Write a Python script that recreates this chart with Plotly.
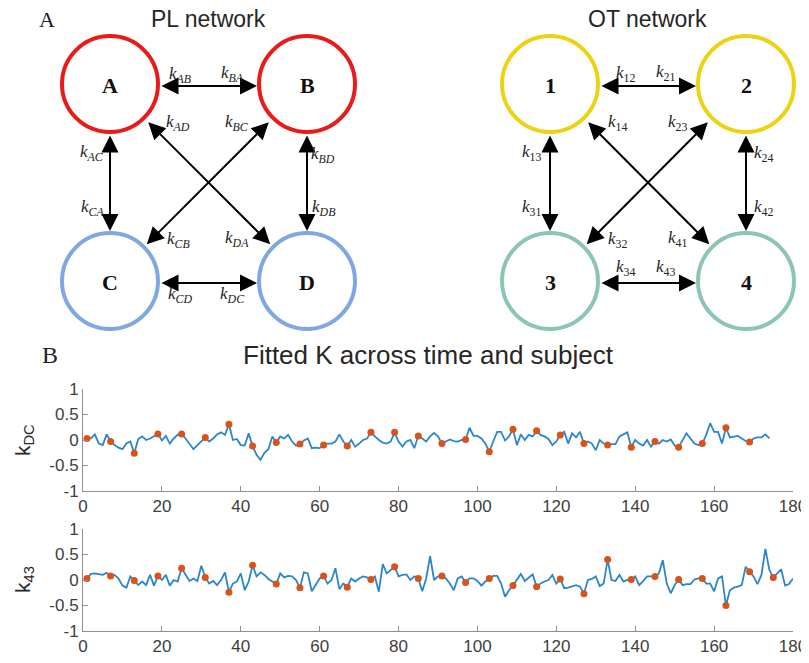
import plotly.graph_objects as go

# ---------------- data ----------------
k_dc = [0.03, 0.03, 0.11, -0.07, -0.10, 0.11, -0.03, -0.10, -0.15, -0.18,
        -0.07, -0.03, -0.26, 0.02, 0.07, 0.00, 0.03, 0.07, 0.12, -0.01,
        0.08, -0.07, 0.03, 0.10, 0.12, 0.03, -0.07, -0.18, -0.10, -0.02,
        0.05, -0.03, 0.03, 0.11, 0.15, 0.10, 0.31, 0.00, 0.02, -0.10,
        -0.11, 0.13, -0.12, -0.29, -0.39, -0.25, -0.18, 0.07, -0.05, 0.07,
        0.03, 0.10, -0.03, -0.11, -0.08, -0.01, 0.03, -0.16, -0.15, -0.16,
        -0.10, -0.07, -0.07, -0.03, 0.11, -0.03, -0.12, 0.00, -0.13, -0.07,
        0.00, 0.03, 0.15, 0.07, 0.00, -0.05, -0.07, -0.03, 0.15, -0.03,
        -0.13, -0.03, 0.00, -0.16, 0.08, 0.03, -0.03, 0.07, 0.14, 0.07,
        -0.07, -0.03, 0.01, -0.02, -0.03, 0.00, 0.01, 0.24, 0.08, 0.08,
        0.03, -0.07, -0.23, -0.03, 0.16, 0.16, -0.01, 0.07, 0.21, -0.10,
        0.11, 0.00, 0.10, 0.07, 0.18, 0.10, 0.07, 0.02, -0.10, -0.03,
        0.10, 0.16, -0.07, 0.13, 0.05, 0.16, -0.07, -0.03, -0.07, -0.20,
        0.00, -0.07, -0.10, -0.08, -0.08, 0.07, 0.11, 0.15, -0.14, 0.00,
        -0.07, -0.11, 0.00, -0.13, -0.03, -0.07, 0.00, -0.03, 0.01, -0.11,
        -0.14, 0.00, 0.13, 0.03, -0.07, -0.10, -0.07, 0.10, 0.33, 0.16,
        0.16, -0.07, 0.24, 0.05, 0.07, 0.08, 0.03, -0.02, -0.04, 0.03,
        0.05, 0.05, 0.11, 0.03]

k_43 = [0.03, 0.12, 0.13, 0.11, 0.10, 0.14, 0.08, 0.10, 0.03, -0.11,
        -0.15, 0.07, -0.01, -0.10, -0.03, -0.10, 0.10, -0.11, 0.08, 0.00,
        0.10, -0.11, 0.00, -0.03, 0.23, 0.10, -0.02, 0.03, -0.02, 0.28,
        0.05, -0.07, -0.02, -0.10, 0.00, 0.15, -0.24, -0.07, -0.03, 0.13,
        -0.20, -0.03, 0.29, 0.07, 0.15, 0.10, 0.02, -0.03, -0.08, 0.13,
        0.05, 0.08, 0.07, 0.00, -0.15, 0.15, 0.13, -0.22, -0.10, 0.03,
        0.08, -0.07, 0.00, 0.23, -0.18, -0.07, -0.14, 0.03, -0.03, 0.03,
        0.07, 0.05, 0.01, 0.07, -0.23, 0.31, 0.13, 0.20, 0.26, 0.07,
        0.10, 0.11, 0.00, 0.07, 0.03, -0.22, 0.03, 0.47, 0.00, 0.07,
        0.08, 0.03, -0.07, -0.20, 0.03, 0.07, -0.05, 0.03, 0.03, -0.02,
        -0.11, -0.03, 0.03, 0.08, 0.08, -0.07, -0.33, -0.20, -0.11, 0.00,
        0.12, -0.02, 0.05, 0.11, -0.13, -0.07, -0.03, 0.00, 0.10, -0.07,
        0.02, -0.16, -0.15, -0.13, -0.10, -0.13, -0.27, 0.00, 0.02, 0.07,
        -0.12, -0.07, 0.40, 0.00, -0.02, 0.10, -0.03, 0.00, 0.01, 0.07,
        -0.10, -0.02, 0.07, 0.07, 0.07, 0.13, 0.39, -0.07, -0.26, -0.10,
        0.01, -0.10, -0.08, -0.08, 0.01, 0.03, 0.03, -0.07, -0.07, -0.22,
        0.03, 0.07, -0.50, -0.20, -0.15, -0.13, -0.10, 0.26, 0.16, 0.07,
        -0.08, 0.10, 0.61, 0.20, 0.05, 0.13, 0.21, -0.11, -0.08, 0.03]

marker_step = 6
x_ticks = [0, 20, 40, 60, 80, 100, 120, 140, 160, 180]
y_ticks = [-1, -0.5, 0, 0.5, 1]
y_tick_text = ["-1", "-0.5", "0", "0.5", "1"]

pl_nodes = ["A", "B", "C", "D"]
ot_nodes = ["1", "2", "3", "4"]
edges = [(0, 1), (0, 2), (1, 3), (2, 3), (0, 3), (1, 2)]
pl_edge_labels = ["AB", "BA", "AD", "BC", "AC", "CA", "BD", "DB", "CB", "DA", "CD", "DC"]
ot_edge_labels = ["12", "21", "14", "23", "13", "31", "24", "42", "32", "41", "34", "43"]

# ---------------- layout helpers ----------------
PAGE_W, PAGE_H = 809, 663
OFF = 8                      # default page body margin
W, H = PAGE_W - OFF, PAGE_H - OFF
BLUE = "#2A86CC"
ORANGE = "#D95319"
AXC = "#8f8f8f"
TXT = "#404040"

pl_centers = [(110, 84), (307, 84), (110, 281), (307, 281)]
ot_centers = [(550, 84), (746, 84), (550, 281), (746, 281)]
pl_colors = ["#EB1A1A", "#EB1A1A", "#7FA7E1", "#7FA7E1"]
ot_colors = ["#EDD213", "#EDD213", "#8CC5B5", "#8CC5B5"]
pl_label_pos = [(180, 75), (232, 74), (178, 123), (237, 123), (92, 153), (92, 208),
                (323, 155), (323, 208), (178, 240), (237, 239), (180, 295), (232, 295)]
ot_label_pos = [(625, 74), (665, 73), (617, 123), (677, 123), (531, 153), (531, 208),
                (763, 154), (763, 208), (617, 240), (677, 239), (625, 268), (665, 268)]

fig = go.Figure()

xs_dc = list(range(1, len(k_dc) + 1))
xs_43 = list(range(1, len(k_43) + 1))

fig.add_trace(go.Scatter(x=xs_dc, y=k_dc, mode="lines", line=dict(color=BLUE, width=1.8),
                         xaxis="x", yaxis="y", showlegend=False))
fig.add_trace(go.Scatter(x=xs_dc[::marker_step], y=k_dc[::marker_step], mode="markers",
                         marker=dict(color=ORANGE, size=7), xaxis="x", yaxis="y", showlegend=False))
fig.add_trace(go.Scatter(x=xs_43, y=k_43, mode="lines", line=dict(color=BLUE, width=1.8),
                         xaxis="x2", yaxis="y2", showlegend=False))
fig.add_trace(go.Scatter(x=xs_43[::marker_step], y=k_43[::marker_step], mode="markers",
                         marker=dict(color=ORANGE, size=7), xaxis="x2", yaxis="y2", showlegend=False))

def px_x(p):
    return (p - OFF) / W

def px_y(p):
    return (OFF + H - p) / H

xdom = [px_x(83), px_x(793)]
axis_common = dict(showline=True, linecolor=AXC, linewidth=1, ticks="inside", ticklen=5,
                   tickcolor=AXC, showgrid=False, zeroline=False, automargin=False,
                   tickfont=dict(family="Liberation Sans, Arial", size=17, color=TXT))

fig.update_layout(
    width=W, height=H, autosize=False,
    margin=dict(l=0, r=0, t=0, b=0, pad=0, autoexpand=False),
    paper_bgcolor="white", plot_bgcolor="rgba(0,0,0,0)",
    xaxis=dict(domain=xdom, range=[0, 180], tickvals=x_ticks, anchor="y", **axis_common),
    yaxis=dict(domain=[px_y(491), px_y(389)], range=[-1, 1], tickvals=y_ticks,
               ticktext=y_tick_text, anchor="x", **axis_common),
    xaxis2=dict(domain=xdom, range=[0, 180], tickvals=x_ticks, anchor="y2", **axis_common),
    yaxis2=dict(domain=[px_y(631), px_y(529)], range=[-1, 1], tickvals=y_ticks,
                ticktext=y_tick_text, anchor="x2", **axis_common),
    xaxis3=dict(domain=[0, 1], range=[OFF, OFF + W], visible=False, anchor="y3", automargin=False),
    yaxis3=dict(domain=[0, 1], range=[OFF + H, OFF], visible=False, anchor="x3", automargin=False),
)
# dummy trace to activate overlay axes
fig.add_trace(go.Scatter(x=[], y=[], xaxis="x3", yaxis="y3", showlegend=False))

shapes = []
annotations = []
R_LINE = 48

def add_network(names, centers, colors, label_texts, label_pos, italic_sub):
    for name, (cx, cy), col in zip(names, centers, colors):
        shapes.append(dict(type="circle", xref="x3", yref="y3",
                           x0=cx - R_LINE, x1=cx + R_LINE, y0=cy - R_LINE, y1=cy + R_LINE,
                           line=dict(color=col, width=4), fillcolor="rgba(0,0,0,0)"))
        annotations.append(dict(x=cx, y=cy + 1, xref="x3", yref="y3", text="<b>%s</b>" % name,
                                showarrow=False, font=dict(family="Liberation Serif, Times New Roman",
                                                           size=22, color="#111111")))
    for i, j in edges:
        (x1, y1), (x2, y2) = centers[i], centers[j]
        dx, dy = x2 - x1, y2 - y1
        d = (dx ** 2 + dy ** 2) ** 0.5
        ux, uy = dx / d, dy / d
        rr = 52 if (dx != 0 and dy != 0) else 50
        off = 2 if dy == 0 else 0
        sx, sy = x1 + ux * rr, y1 + uy * rr + off
        ex, ey = x2 - ux * rr, y2 - uy * rr + off
        annotations.append(dict(x=ex, y=ey, ax=sx, ay=sy, xref="x3", yref="y3",
                                axref="x3", ayref="y3", text="", showarrow=True,
                                arrowhead=2, startarrowhead=2, arrowside="end+start",
                                arrowsize=1.7, startarrowsize=1.7, arrowwidth=2,
                                arrowcolor="black", standoff=0, startstandoff=0))
    for t, (lx, ly) in zip(label_texts, label_pos):
        sub = "<i>%s</i>" % t if italic_sub else t
        annotations.append(dict(x=lx, y=ly, xref="x3", yref="y3",
                                text="<i>k</i><sub>%s</sub>" % sub, showarrow=False,
                                font=dict(family="Liberation Serif, Times New Roman", size=17,
                                          color="#222222")))

add_network(pl_nodes, pl_centers, pl_colors, pl_edge_labels, pl_label_pos, True)
add_network(ot_nodes, ot_centers, ot_colors, ot_edge_labels, ot_label_pos, False)

sans = "Liberation Sans, Arial"
serif = "Liberation Serif, Times New Roman"
texts = [
    ("A", 47, 19, serif, 22, "#222222", 0),
    ("PL network", 208, 19, sans, 23, "#262626", 0),
    ("OT network", 647, 19, sans, 23, "#262626", 0),
    ("B", 50, 355, serif, 24, "#222222", 0),
    ("Fitted K across time and subject", 428, 355, sans, 26, "#262626", 0),
    ("k<sub>DC</sub>", 24, 440, sans, 21, "#262626", -90),
    ("k<sub>43</sub>", 24, 580, sans, 21, "#262626", -90),
]
for t, x, y, fam, sz, col, ang in texts:
    annotations.append(dict(x=x, y=y, xref="x3", yref="y3", text=t, showarrow=False,
                            textangle=ang, font=dict(family=fam, size=sz, color=col)))

fig.update_layout(shapes=shapes, annotations=annotations)
fig.write_html("out.html")
